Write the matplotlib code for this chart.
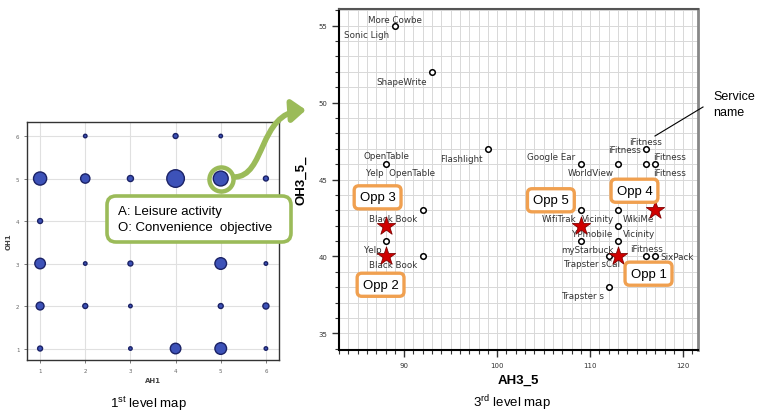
import matplotlib
matplotlib.use("Agg")
import matplotlib.pyplot as plt
from matplotlib.patches import FancyBboxPatch, FancyArrowPatch
from matplotlib.path import Path
from matplotlib.lines import Line2D
from matplotlib.ticker import MultipleLocator

# ---------------- data: 1st level map ----------------
ah1 = [2, 4, 5, 1, 2, 3, 4, 5, 6, 1, 1, 2, 3, 5, 6, 1, 2, 3, 5, 6, 1, 3, 4, 5, 6]
oh1 = [6, 6, 6, 5, 5, 5, 5, 5, 5, 4, 3, 3, 3, 3, 3, 2, 2, 2, 2, 2, 1, 1, 1, 1, 1]
counts = [1, 2, 1, 14, 7, 3, 25, 18, 2, 2, 9, 1, 2, 11, 1, 5, 2, 1, 2, 3, 2, 1, 9, 11, 1]
highlight = (5, 5)
lvl1_ticks = [1, 2, 3, 4, 5, 6]

# ---------------- data: 3rd level map ----------------
svc_x = [89, 93, 99, 88, 92, 88, 92, 109, 113, 116, 116, 117, 109, 113, 113, 109, 113, 112, 116, 117, 112]
svc_y = [55, 52, 47, 46, 43, 41, 40, 46, 46, 47, 46, 46, 43, 43, 42, 41, 41, 40, 40, 40, 38]
opp_x = [88, 88, 109, 117, 113]
opp_y = [42, 40, 42, 43, 40]
label_text = ["More Cowbe", "Sonic Ligh", "ShapeWrite", "OpenTable", "Yelp  OpenTable",
              "Flashlight", "Black Book", "Yelp", "Black Book", "Google Ear", "WorldView",
              "iFitness", "iFitness", "iFitness", "iFitness", "WifiTrak", "Vicinity", "WikiMe",
              "YPmobile", "Vicinity", "myStarbuck", "iFitness", "SixPack", "Trapster sCal",
              "Trapster s"]
label_x = [89.0, 86.0, 89.7, 88.06, 89.62, 96.14, 88.87, 86.61, 88.87, 105.86, 110.11,
           116.0, 113.68, 118.52, 118.52, 106.66, 110.87, 115.18, 110.25, 115.27, 109.71,
           116.03, 119.33, 110.19, 109.17]
label_y = [55.43, 54.40, 51.39, 46.56, 45.48, 46.39, 42.45, 40.45, 39.46, 46.52, 45.43,
           47.49, 46.97, 46.49, 45.43, 42.49, 42.49, 42.49, 41.47, 41.47, 40.43, 40.54,
           40.0, 39.53, 37.47]
opp_names = ["Opp 3", "Opp 2", "Opp 5", "Opp 4", "Opp 1"]
opp_box_x = [87.15, 87.47, 105.78, 114.77, 116.28]
opp_box_y = [43.84, 38.16, 43.65, 44.27, 38.88]

W, H = 772, 414
fig = plt.figure(figsize=(W / 100, H / 100), dpi=100)
fig.patch.set_facecolor("white")
SANS = ["Liberation Sans", "DejaVu Sans"]
GREEN = "#9bbb59"
ORANGE = "#f0a050"
T = fig.dpi_scale_trans


def P(px, py):
    return (px / 100.0, (H - py) / 100.0)


# ---------------- left axes ----------------
axL = fig.add_axes([27 / W, 1 - 361 / H, 252 / W, 238 / H])
axL.set_xlim(0.71, 6.29)
axL.set_ylim(0.73, 6.33)
axL.set_xticks(lvl1_ticks)
axL.set_yticks(lvl1_ticks)
axL.grid(True, color="#e0e0e0", lw=0.8, zorder=0)
axL.set_axisbelow(True)
axL.tick_params(labelsize=4, colors="#666666", length=2, width=0.6)
for s in axL.spines.values():
    s.set_color("#333333")
    s.set_linewidth(1.0)
axL.set_xlabel("AH1", fontsize=5, fontweight="bold", color="#444444", labelpad=3)
axL.set_ylabel("OH1", fontsize=5, fontweight="bold", color="#444444", labelpad=3)

axL.scatter([highlight[0]], [highlight[1]], s=300, facecolor="white", edgecolor=GREEN,
            lw=3.2, zorder=3)
axL.scatter(ah1, oh1, s=[6.4 * c for c in counts], facecolor="#3d52b8",
            edgecolor="#1b2266", lw=1.0, zorder=4)

fig.text(148 / W, 1 - 404 / H, "1$^{\\mathregular{st}}$ level map", ha="center", va="center",
         fontsize=9.5, family=SANS)

# ---------------- right axes ----------------
axR = fig.add_axes([339 / W, 1 - 351 / H, 359 / W, 341 / H])
axR.set_xlim(83.0, 121.6)
axR.set_ylim(33.92, 56.08)
axR.xaxis.set_major_locator(MultipleLocator(10))
axR.xaxis.set_minor_locator(MultipleLocator(1))
axR.yaxis.set_major_locator(MultipleLocator(5))
axR.yaxis.set_minor_locator(MultipleLocator(1))
axR.grid(True, which="both", color="#d8d8d8", lw=0.7, zorder=0)
axR.set_axisbelow(True)
axR.tick_params(which="major", labelsize=5, colors="#333333", length=5, width=1.0,
                direction="out")
axR.tick_params(which="minor", length=3, width=0.8, direction="out", colors="#333333")
axR.spines["left"].set_color("black")
axR.spines["bottom"].set_color("black")
axR.spines["left"].set_linewidth(1.5)
axR.spines["bottom"].set_linewidth(1.5)
axR.spines["top"].set_color("#555555")
axR.spines["right"].set_color("#888888")
axR.spines["top"].set_linewidth(1.5)
axR.spines["right"].set_linewidth(2.0)
axR.set_xlabel("AH3_5", fontsize=9.5, fontweight="bold", family=SANS, labelpad=4)
axR.set_ylabel("OH3_5_", fontsize=9.5, fontweight="bold", family=SANS, labelpad=8)

axR.scatter(svc_x, svc_y, s=16, facecolor="white", edgecolor="black", lw=1.1, zorder=4)
for t, x, y in zip(label_text, label_x, label_y):
    axR.text(x, y, t, ha="center", va="center", fontsize=6.3, color="#333333", zorder=5)
axR.scatter(opp_x, opp_y, s=190, marker="*", facecolor="#d00000", edgecolor="#800000",
            lw=0.6, zorder=6)
for t, x, y in zip(opp_names, opp_box_x, opp_box_y):
    axR.text(x, y, t, ha="center", va="center", fontsize=9.5, family=SANS, zorder=7,
             bbox=dict(boxstyle="round,pad=0.42,rounding_size=0.35", facecolor="white",
                       edgecolor=ORANGE, lw=2.4))

fig.text(512 / W, 1 - 403 / H, "3$^{\\mathregular{rd}}$ level map", ha="center", va="center",
         fontsize=9.5, family=SANS)

# ---------------- annotations ----------------
fig.text(713 / W, 1 - 97 / H, "Service", ha="left", va="center", fontsize=9, family=SANS)
fig.text(713 / W, 1 - 113 / H, "name", ha="left", va="center", fontsize=9, family=SANS)
fig.add_artist(Line2D([P(703, 108)[0], P(655, 137)[0]], [P(703, 108)[1], P(655, 137)[1]],
                      transform=T, color="black", lw=0.8))

# callout box
x0, y0 = P(107, 243)
x1, y1 = P(291, 197)
box = FancyBboxPatch((x0, y0), x1 - x0, y1 - y0, boxstyle="round,pad=0,rounding_size=0.09",
                     transform=T, facecolor="white", edgecolor=GREEN, lw=2.6, zorder=10)
fig.add_artist(box)
fig.text(118 / W, 1 - 212.5 / H, "A: Leisure activity", ha="left", va="center",
         fontsize=9.5, family=SANS, zorder=11)
fig.text(118 / W, 1 - 228.5 / H, "O: Convenience  objective", ha="left", va="center",
         fontsize=9.5, family=SANS, zorder=11)

# green curved arrow
verts = [P(234, 178), P(266, 178), P(258, 114), P(306, 111)]
codes = [Path.MOVETO, Path.CURVE4, Path.CURVE4, Path.CURVE4]
arrow = FancyArrowPatch(path=Path(verts, codes), transform=T,
                        arrowstyle="-|>,head_length=0.7,head_width=0.55",
                        mutation_scale=12, color=GREEN, lw=4, shrinkA=0, shrinkB=0,
                        zorder=9)
fig.add_artist(arrow)

fig.savefig("out.png", dpi=100, facecolor="white")
